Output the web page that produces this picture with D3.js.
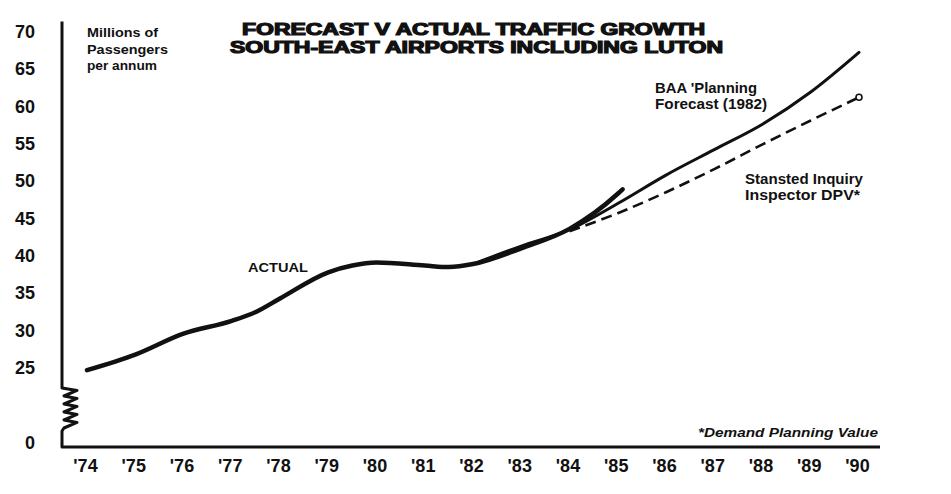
<!DOCTYPE html>
<html><head><meta charset="utf-8">
<script src="https://cdn.jsdelivr.net/npm/d3@7"></script>
<style>
body{margin:0;background:#fff}
svg{display:block;background:#fff}
text{font-family:"Liberation Sans",Arial,Helvetica,sans-serif;fill:#111}
</style>
</head><body><div id="chart"></div>
<script>
// ---- data ----
const yearTicks = [1974,1975,1976,1977,1978,1979,1980,1981,1982,1983,1984,1985,1986,1987,1988,1989,1990];
const yearLabels = ["'74","'75","'76","'77","'78","'79","'80","'81","'82","'83","'84","'85","'86","'87","'88","'89","'90"];
const valueTicks = [0,25,30,35,40,45,50,55,60,65,70];

const actualYears  = [1974,1975,1976,1977,1977.5,1978,1979,1979.5,1980,1981,1981.5,1982,1983,1984,1985,1985.1];
const actualValues = [24.3,26.8,29.6,31.3,32.5,34.3,37.8,38.7,39.1,38.7,38.5,38.9,41.0,43.6,48.3,48.9];

const forecastYears  = [1982,1983,1984,1985,1986,1987,1988,1989,1990];
const forecastValues = [38.9,41.3,43.5,47.0,50.8,54.2,57.6,61.9,67.2];

const dpvYears  = [1984,1985,1986,1987,1988,1989,1990];
const dpvValues = [43.3,45.7,48.5,51.6,54.9,58.1,61.2];

const titleLines = ["FORECAST V ACTUAL TRAFFIC GROWTH","SOUTH-EAST AIRPORTS INCLUDING LUTON"];
const unitLines = ["Millions of","Passengers","per annum"];
const forecastLabel = ["BAA 'Planning","Forecast (1982)"];
const dpvLabel = ["Stansted Inquiry","Inspector DPV*"];
const actualLabel = "ACTUAL";
const footnote = "*Demand Planning Value";

// ---- chart ----
(function () {
const W = 951, H = 494;
const svg = d3.select("#chart").append("svg").attr("width", W).attr("height", H);

const x = d3.scaleLinear().domain([1974, 1990]).range([87, 859]);
const y = d3.scaleLinear().domain([0, 25, 70]).range([443, 368, 31.5]);

// axes lines (with broken y axis)
const axX = 62, y0 = y(0);
const axBase = y0 + 4, axTop = y(70) - 10;
const brkTop = y0 - 55, brkBot = y0 - 15;
let p = `M${axX},${axTop} V${brkTop}`;
const teeth = 5, th = (brkBot - brkTop) / teeth;
for (let i = 0; i < teeth; i++) {
  p += ` L${axX + 15},${brkTop + th * i + th * 0.3} L${axX + 2},${brkTop + th * (i + 1)}`;
}
p += ` L${axX},${brkBot + 3} V${axBase} H880`;
svg.append("path").attr("d", p).attr("fill", "none").attr("stroke", "#111")
  .attr("stroke-width", 3).attr("stroke-linejoin", "round");

// x axis labels
const xAxis = d3.axisBottom(x).tickValues(yearTicks)
  .tickFormat((d, i) => yearLabels[i]).tickSize(0).tickPadding(12);
const gx = svg.append("g").attr("transform", `translate(0,${axBase})`).call(xAxis);
gx.select(".domain").remove();
gx.selectAll("text").attr("font-size", 18).attr("font-weight", "bold")
  .attr("dx", -2).style("font-family", '"Liberation Sans",Arial,sans-serif').attr("fill", "#111");

// y axis labels
const yAxis = d3.axisLeft(y).tickValues(valueTicks).tickSize(0).tickPadding(0);
const gy = svg.append("g").attr("transform", "translate(35,0)").call(yAxis);
gy.select(".domain").remove();
gy.selectAll("text").attr("font-size", 18).attr("font-weight", "bold")
  .style("font-family", '"Liberation Sans",Arial,sans-serif').attr("fill", "#111");

// lines
const mk = (xs, vs) => xs.map((d, i) => [d, vs[i]]);
const line = d3.line().x(d => x(d[0])).y(d => y(d[1])).curve(d3.curveMonotoneX);

svg.append("path").datum(mk(dpvYears, dpvValues)).attr("d", line)
  .attr("fill", "none").attr("stroke", "#111").attr("stroke-width", 2.6)
  .attr("stroke-dasharray", "11,6");
svg.append("path").datum(mk(forecastYears, forecastValues)).attr("d", line)
  .attr("fill", "none").attr("stroke", "#111").attr("stroke-width", 3)
  .attr("stroke-linecap", "round");
svg.append("path").datum(mk(actualYears, actualValues)).attr("d", line)
  .attr("fill", "none").attr("stroke", "#111").attr("stroke-width", 4.5)
  .attr("stroke-linecap", "round");

// end marker of DPV
svg.append("circle").attr("cx", x(dpvYears[dpvYears.length - 1]))
  .attr("cy", y(dpvValues[dpvValues.length - 1])).attr("r", 3)
  .attr("fill", "#fff").attr("stroke", "#111").attr("stroke-width", 1.6);

// text helper
function txt(s, tx, ty, size, len, opts = {}) {
  const t = svg.append("text").attr("x", tx).attr("y", ty).attr("font-size", size)
    .attr("font-weight", opts.weight || "bold").text(s);
  if (len) t.attr("textLength", len).attr("lengthAdjust", "spacingAndGlyphs");
  if (opts.italic) t.attr("font-style", "italic");
  if (opts.stroke) t.attr("stroke", "#111").attr("stroke-width", opts.stroke);
  return t;
}

// title
txt(titleLines[0], 242, 35, 16, 463, {stroke: 1.2});
txt(titleLines[1], 230, 53, 16, 493, {stroke: 1.2});

// units
txt(unitLines[0], 87, 37, 13.5, 71);
txt(unitLines[1], 87, 54, 13.5, 81);
txt(unitLines[2], 87, 70, 13.5, 70);

// annotations
txt(forecastLabel[0], 655, 93, 14, 102);
txt(forecastLabel[1], 655, 109, 14, 112);
txt(dpvLabel[0], 745, 184, 14.5, 118);
txt(dpvLabel[1], 745, 200, 14.5, 115);
txt(actualLabel, 248, 272, 13.5, 60);
txt(footnote, 698, 437, 13, 180, {italic: true});
})();
</script>
</body></html>
